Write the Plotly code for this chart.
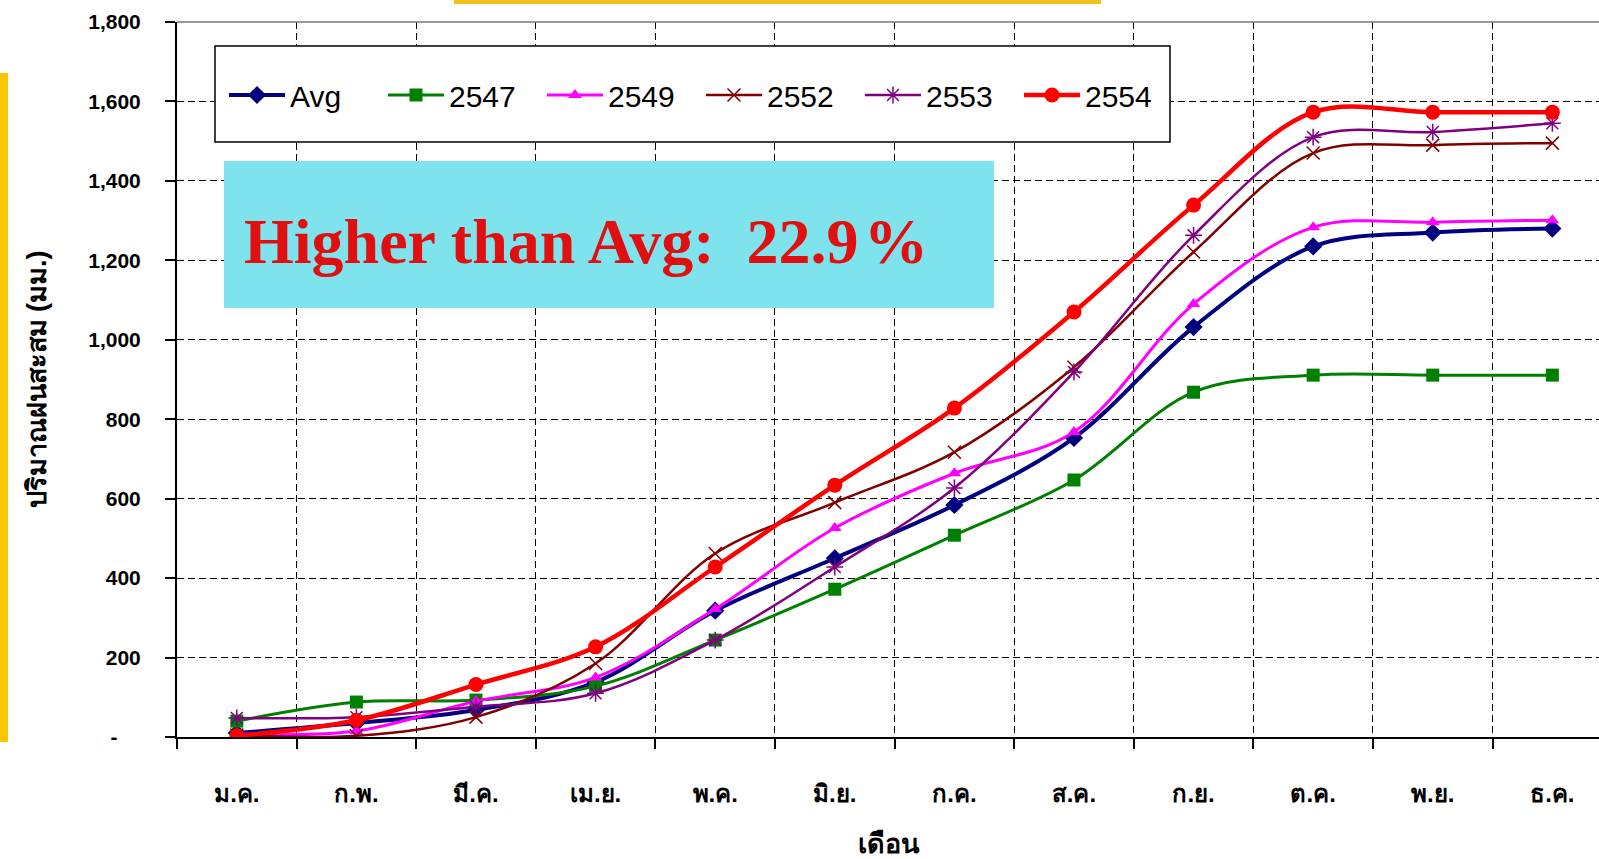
import plotly.graph_objects as go

# Monthly cumulative rainfall (mm)
months = ["ม.ค.", "ก.พ.", "มี.ค.", "เม.ย.", "พ.ค.", "มิ.ย.",
          "ก.ค.", "ส.ค.", "ก.ย.", "ต.ค.", "พ.ย.", "ธ.ค."]

avg = [10, 35, 68, 138, 318, 450, 584, 753, 1032, 1235, 1270, 1280]
y2547 = [40, 88, 93, 128, 244, 372, 508, 647, 868, 911, 911, 911]
y2549 = [8, 15, 90, 150, 322, 526, 664, 768, 1090, 1283, 1296, 1301]
y2552 = [5, 3, 50, 185, 462, 590, 717, 931, 1221, 1470, 1490, 1495]
y2553 = [48, 50, 76, 110, 244, 428, 627, 919, 1263, 1510, 1523, 1545]
y2554 = [3, 42, 132, 227, 428, 634, 828, 1070, 1339, 1573, 1573, 1573]

y_tickvals = [0, 200, 400, 600, 800, 1000, 1200, 1400, 1600, 1800]
y_ticktext = ["-\u00a0\u00a0\u00a0\u00a0", "200", "400", "600", "800", "1,000",
              "1,200", "1,400", "1,600", "1,800"]

W, H = 1599, 859
L, R, T, B = 177, 1599, 22, 737


def fx(p):
    return (p - L) / (R - L)


def fy(p):
    return (B - p) / (B - T)


series = [
    ("Avg", avg, "#000080", 4, dict(symbol="diamond", size=14)),
    ("2547", y2547, "#008000", 3, dict(symbol="square", size=13)),
    ("2549", y2549, "#FF00FF", 3, dict(symbol="triangle-up", size=12)),
    ("2552", y2552, "#800000", 2.5, dict(symbol="x-thin-open", size=13, line=dict(width=1.5, color="#800000"))),
    ("2553", y2553, "#800080", 2.5, dict(symbol="asterisk-open", size=14, line=dict(width=1.5, color="#800080"))),
    ("2554", y2554, "#FF0000", 4.5, dict(symbol="circle", size=15)),
]

fig = go.Figure()
for name, vals, color, lw, marker in series:
    marker = dict(marker)
    marker.setdefault("color", color)
    fig.add_trace(go.Scatter(
        x=months, y=vals, name=name, mode="lines+markers",
        line=dict(color=color, width=lw, shape="spline", smoothing=1.0),
        marker=marker,
    ))

pct = (y2554[-1] / avg[-1] - 1) * 100
label = f"Higher than Avg:\u00a0\u00a0{pct:.1f}\u200a%"

thai_font = "Liberation Sans, DejaVu Sans, Noto Sans, sans-serif"

shapes = [
    # top plot border
    dict(type="line", xref="paper", yref="paper", x0=0, x1=1, y0=1, y1=1,
         line=dict(color="#777777", width=1.5), layer="above"),
    # legend frame
    dict(type="rect", xref="paper", yref="paper",
         x0=fx(215), x1=fx(1170), y0=fy(142), y1=fy(46),
         fillcolor="white", line=dict(color="black", width=1.5), layer="above"),
    # note box
    dict(type="rect", xref="paper", yref="paper",
         x0=fx(224), x1=fx(994), y0=fy(308), y1=fy(161),
         fillcolor="#7FE3EE", line=dict(width=0), layer="above"),
    # gold accent bars
    dict(type="rect", xref="paper", yref="paper",
         x0=fx(454), x1=fx(1101), y0=fy(4), y1=fy(-2),
         fillcolor="#F2C21A", line=dict(width=0), layer="above"),
    dict(type="rect", xref="paper", yref="paper",
         x0=fx(-2), x1=fx(8), y0=fy(742), y1=fy(73),
         fillcolor="#F7C600", line=dict(width=0), layer="above"),
]

fig.update_layout(
    width=W, height=H,
    margin=dict(l=L, r=0, t=T, b=H - B, pad=0),
    paper_bgcolor="white", plot_bgcolor="white",
    shapes=shapes,
    showlegend=True,
    legend=dict(
        orientation="h", x=fx(224), y=fy(95), xanchor="left", yanchor="middle",
        bgcolor="rgba(0,0,0,0)", borderwidth=0, itemwidth=56,
        entrywidth=88, entrywidthmode="pixels",
        font=dict(family="Liberation Sans, Arial, sans-serif", size=30, color="black"),
        traceorder="normal",
    ),
    annotations=[dict(
        xref="paper", yref="paper", x=fx(242), y=fy(241),
        xanchor="left", yanchor="middle", showarrow=False, text=label,
        font=dict(family="Liberation Serif, Times New Roman, serif", size=64,
                  color="#E01010", weight="bold"),
    )],
    xaxis=dict(
        type="category", range=[-0.5, 11.39], tickson="boundaries",
        showgrid=True, gridcolor="black", gridwidth=1.3, griddash="7px,4px",
        showline=True, linecolor="black", linewidth=2,
        ticks="outside", ticklen=10, tickcolor="black", tickwidth=1.5,
        ticklabelstandoff=34,
        tickfont=dict(family=thai_font, size=24, color="black", weight="bold"),
        title=dict(text="เดือน", standoff=30,
                   font=dict(family=thai_font, size=27, color="black", weight="bold")),
        zeroline=False, fixedrange=True,
    ),
    yaxis=dict(
        range=[0, 1800], tickvals=y_tickvals, ticktext=y_ticktext,
        showgrid=True, gridcolor="black", gridwidth=1.3, griddash="7px,4px",
        showline=True, linecolor="black", linewidth=2,
        ticks="outside", ticklen=10, tickcolor="black", tickwidth=1.5,
        ticklabelstandoff=20,
        tickfont=dict(family="Liberation Sans, Arial, sans-serif", size=21,
                      color="black", weight="bold"),
        title=dict(text="ปริมาณฝนสะสม (มม.)", standoff=34,
                   font=dict(family=thai_font, size=27, color="black", weight="bold")),
        zeroline=False, fixedrange=True,
    ),
)

fig.write_html("out.html", config={"displayModeBar": False})
